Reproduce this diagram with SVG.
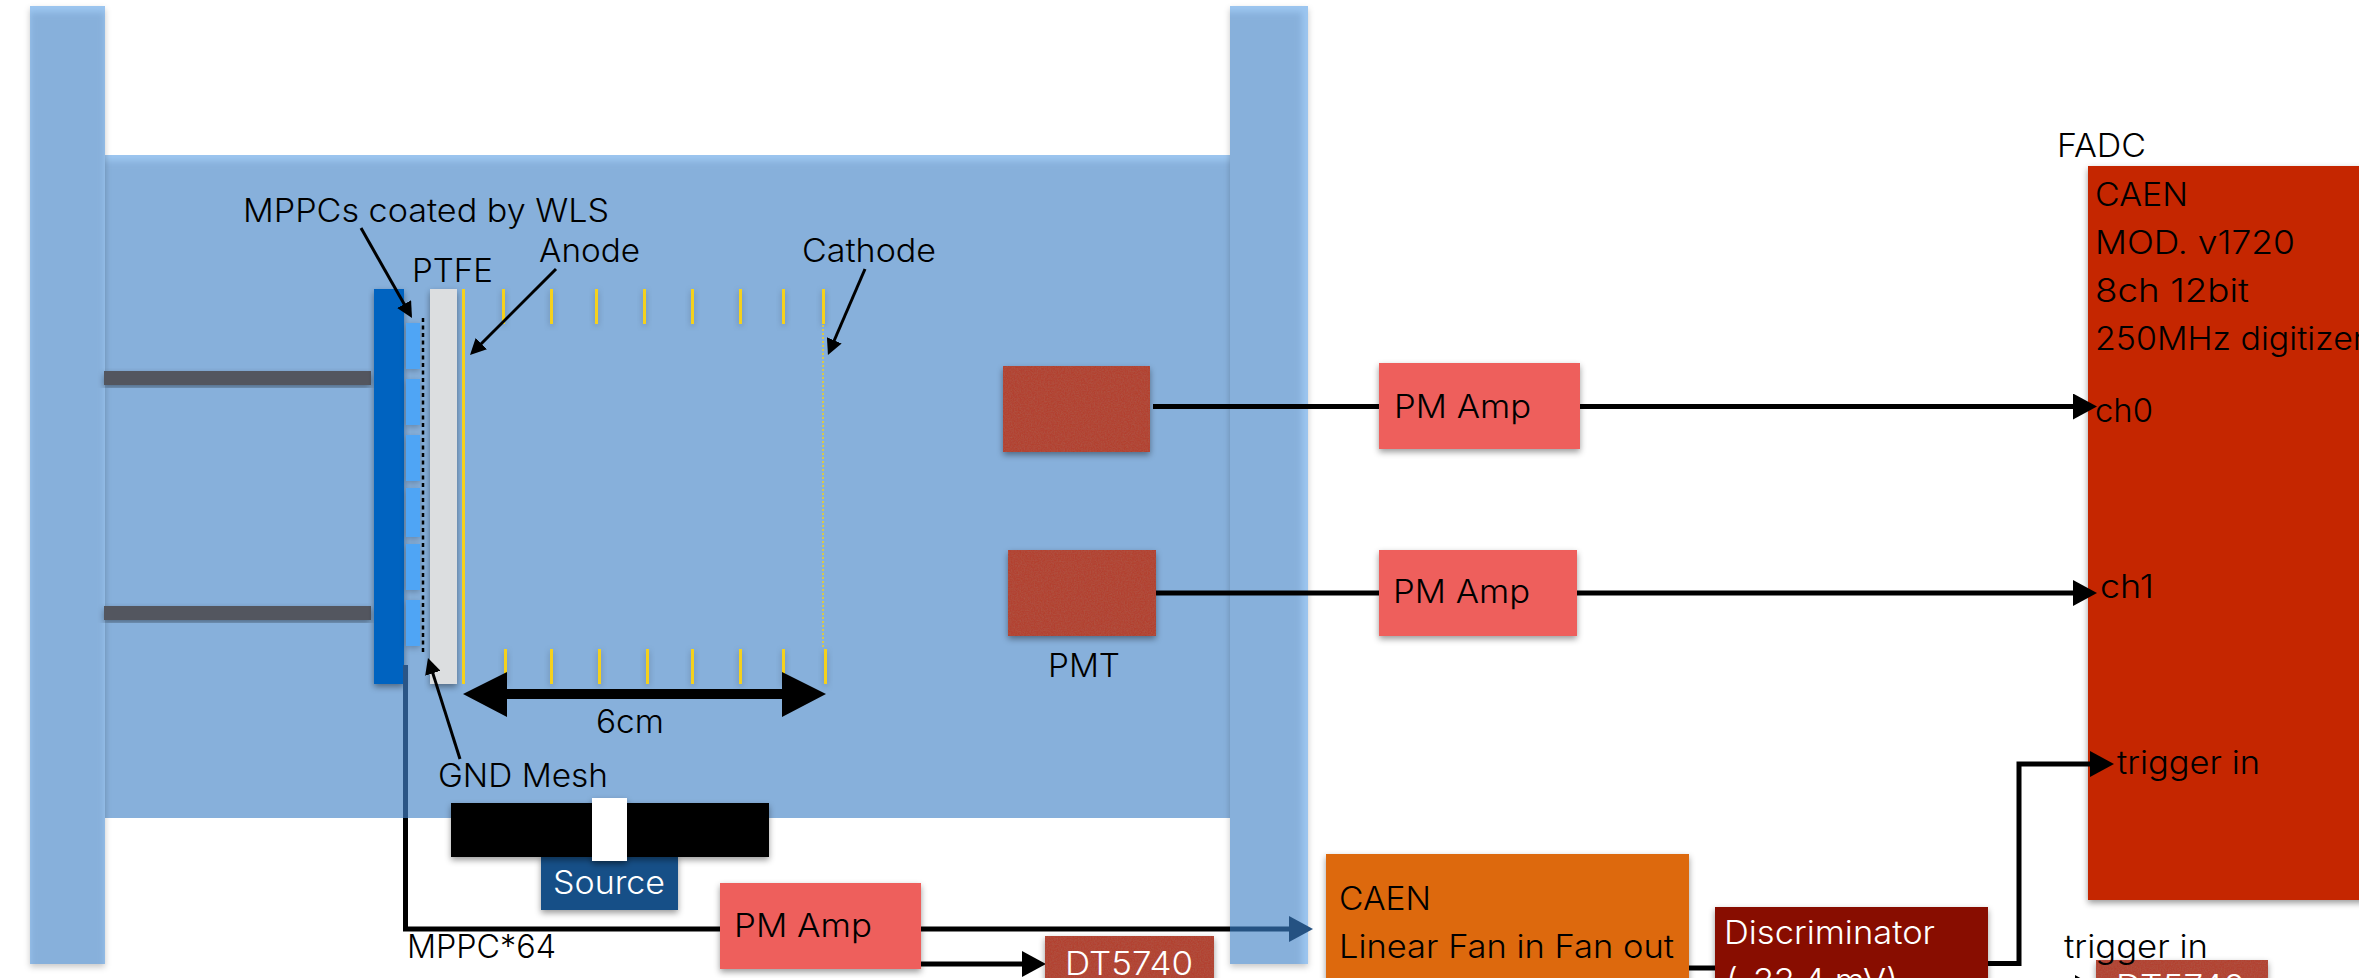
<svg xmlns="http://www.w3.org/2000/svg" width="2359" height="978" viewBox="0 0 2359 978">
<style>
text{font-family:Inter,"Noto Sans","Liberation Sans",sans-serif;font-size:32px;font-weight:300;fill:#000}
.w{fill:#fff}
.sh{filter:url(#sh)}
.col{filter:url(#shc)}
.tick{fill:#f5d11c;filter:url(#shs)}
.cable{fill:none;stroke:#000;stroke-width:5}
.thin{fill:none;stroke:#000;stroke-width:3}
.mppc{fill:#4fa5f5;filter:url(#shs)}
.amp{fill:#ee5f5b}
.pmt{fill:#b24330;filter:url(#tex)}
.rod{fill:#53575f}
</style>
<defs>
<filter id="sh" x="-20%" y="-20%" width="140%" height="140%"><feDropShadow dx="0" dy="3" stdDeviation="3" flood-color="#000" flood-opacity=".4"/></filter>
<filter id="shc" x="-20%" y="-5%" width="140%" height="110%"><feDropShadow dx="0" dy="3" stdDeviation="3" flood-color="#000" flood-opacity=".22"/></filter>
<filter id="shs" x="-200%" y="-20%" width="500%" height="140%"><feDropShadow dx="0" dy="2" stdDeviation="3" flood-color="#000" flood-opacity=".25"/></filter>
<filter id="blur" x="-20%" y="-20%" width="140%" height="140%"><feGaussianBlur stdDeviation="3"/></filter>
<filter id="tex" x="-10%" y="-10%" width="120%" height="130%">
<feTurbulence type="fractalNoise" baseFrequency="0.7" numOctaves="2" seed="4" result="n"/>
<feColorMatrix in="n" type="matrix" values="0 0 0 0 0.42  0 0 0 0 0.12  0 0 0 0 0.08  0.9 0 0 0 -0.3" result="s"/>
<feComposite in="s" in2="SourceGraphic" operator="in" result="sp"/>
<feDropShadow in="SourceGraphic" dx="0" dy="3" stdDeviation="3" flood-color="#000" flood-opacity=".4" result="b"/>
<feMerge><feMergeNode in="b"/><feMergeNode in="sp"/></feMerge>
</filter>
<clipPath id="c1"><rect x="30" y="6" width="75" height="958"/></clipPath>
<clipPath id="c2"><rect x="1230" y="6" width="78" height="958"/></clipPath>
<clipPath id="c3"><rect x="105" y="155" width="1125" height="663"/></clipPath>
<marker id="big" markerUnits="userSpaceOnUse" markerWidth="24" markerHeight="26" refX="4" refY="13" orient="auto"><path d="M0,0L24,13L0,26z" fill="#000"/></marker>
<marker id="bigblue" markerUnits="userSpaceOnUse" markerWidth="24" markerHeight="26" refX="4" refY="13" orient="auto"><path d="M0,0L24,13L0,26z" fill="#255282"/></marker>
<marker id="small" markerUnits="userSpaceOnUse" markerWidth="16" markerHeight="16" refX="4" refY="8" orient="auto"><path d="M0,0L16,8L0,16z" fill="#000"/></marker>
</defs>
<rect width="2359" height="978" fill="#fff"/>

<g id="chamber-body">
<rect x="105" y="155" width="1125" height="663" fill="#9cc6f0"/>
<g clip-path="url(#c3)"><rect x="95" y="161" width="1145" height="670" fill="#87b0db" filter="url(#blur)"/></g>
</g>
<g id="chamber-left">
<rect class="col" x="30" y="6" width="75" height="958" fill="#9cc6f0"/>
<g clip-path="url(#c1)"><rect x="30" y="12" width="75" height="960" fill="#87b0db" filter="url(#blur)"/></g>
</g>
<g id="chamber-right">
<rect class="col" x="1230" y="6" width="78" height="958" fill="#9cc6f0"/>
<g clip-path="url(#c2)"><rect x="1222" y="12" width="80" height="960" fill="#87b0db" filter="url(#blur)"/></g>
</g>

<g id="rods">
<rect class="rod sh" x="104" y="371" width="267" height="14"/>
<rect class="rod sh" x="104" y="606" width="267" height="14"/>
</g>
<g id="mppc-plate"><rect class="sh" x="374" y="289" width="30" height="395" fill="#0464c0"/></g>
<g id="mppcs">
<rect class="mppc" x="406" y="323" width="14" height="46"/>
<rect class="mppc" x="406" y="379" width="14" height="46"/>
<rect class="mppc" x="406" y="435" width="14" height="46"/>
<rect class="mppc" x="406" y="488" width="14" height="49"/>
<rect class="mppc" x="406" y="544" width="14" height="46"/>
<rect class="mppc" x="406" y="600" width="14" height="46"/>
</g>
<g id="gnd-mesh"><line x1="423" y1="318" x2="423" y2="653" stroke="#000" stroke-width="2.5" stroke-dasharray="4 3.5"/></g>
<g id="ptfe"><rect class="sh" x="430" y="289" width="27" height="395" fill="#dcdee0"/></g>
<g id="anode"><rect x="462" y="289" width="3" height="395" fill="#f5d11c"/></g>
<g id="field-top">
<rect class="tick" x="502" y="289" width="3" height="35"/>
<rect class="tick" x="550" y="289" width="3" height="35"/>
<rect class="tick" x="595" y="289" width="3" height="35"/>
<rect class="tick" x="643" y="289" width="3" height="35"/>
<rect class="tick" x="691" y="289" width="3" height="35"/>
<rect class="tick" x="739" y="289" width="3" height="35"/>
<rect class="tick" x="782" y="289" width="3" height="35"/>
<rect class="tick" x="822" y="289" width="3" height="35"/>
</g>
<g id="field-bottom">
<rect class="tick" x="504" y="649" width="3" height="35"/>
<rect class="tick" x="550" y="649" width="3" height="35"/>
<rect class="tick" x="598" y="649" width="3" height="35"/>
<rect class="tick" x="646" y="649" width="3" height="35"/>
<rect class="tick" x="691" y="649" width="3" height="35"/>
<rect class="tick" x="739" y="649" width="3" height="35"/>
<rect class="tick" x="782" y="649" width="3" height="35"/>
<rect class="tick" x="824" y="649" width="3" height="35"/>
</g>
<g id="cathode"><line x1="823" y1="325" x2="823" y2="649" stroke="#f5d11c" stroke-width="1.5" stroke-dasharray="2 2"/></g>

<g id="source">
<rect class="sh" x="541" y="855" width="137" height="55" fill="#165087"/>
<text class="w" x="553" y="894" textLength="112" lengthAdjust="spacingAndGlyphs">Source</text>
</g>
<g id="source-holder"><rect class="sh" x="451" y="803" width="318" height="54" fill="#000"/></g>
<g id="source-window"><rect class="sh" x="592" y="798" width="35" height="63" fill="#fff"/></g>

<g id="pmt-top"><rect class="pmt" x="1003" y="366" width="147" height="86"/></g>
<g id="pmt-bottom"><rect class="pmt" x="1008" y="550" width="148" height="86"/></g>

<g id="fadc">
<rect class="sh" x="2088" y="166" width="290" height="734" fill="#c52605"/>
<text x="2095" y="206" textLength="93" lengthAdjust="spacingAndGlyphs">CAEN</text>
<text x="2095" y="254" textLength="200" lengthAdjust="spacingAndGlyphs">MOD. v1720</text>
<text x="2095" y="302" textLength="154" lengthAdjust="spacingAndGlyphs">8ch 12bit</text>
<text x="2095" y="350" textLength="270" lengthAdjust="spacingAndGlyphs">250MHz digitizer</text>
<text x="2095" y="422" textLength="58" lengthAdjust="spacingAndGlyphs">ch0</text>
<text x="2100" y="598" textLength="54" lengthAdjust="spacingAndGlyphs">ch1</text>
<text x="2117" y="774" textLength="143" lengthAdjust="spacingAndGlyphs">trigger in</text>
</g>

<g id="connectors">
<line class="cable" x1="1153" y1="406.5" x2="2077" y2="406.5" marker-end="url(#big)"/>
<line class="cable" x1="1156" y1="593" x2="2077" y2="593" marker-end="url(#big)"/>
<path class="cable" d="M1988,963.5H2019V764H2094" marker-end="url(#big)"/>
<line x1="405.5" y1="665" x2="405.5" y2="818" stroke="#2a5586" stroke-width="5"/>
<path class="cable" d="M405.5,818V929H720"/>
<line class="cable" x1="921" y1="929" x2="1230" y2="929"/>
<line x1="1230" y1="929" x2="1293" y2="929" stroke="#255282" stroke-width="5" marker-end="url(#bigblue)"/>
<line class="cable" x1="921" y1="964" x2="1026" y2="964" marker-end="url(#big)"/>
<line class="cable" x1="1689" y1="968" x2="1715" y2="968"/>
<path d="M2075,975L2096,987L2075,999z" fill="#000"/>
<line class="thin" x1="361" y1="228" x2="406.1" y2="307.6" marker-end="url(#small)"/>
<line class="thin" x1="556" y1="269" x2="478.5" y2="346.5" marker-end="url(#small)"/>
<line class="thin" x1="865" y1="269" x2="832.7" y2="344" marker-end="url(#small)"/>
<line class="thin" x1="460" y1="759" x2="431.6" y2="669.4" marker-end="url(#small)"/>
<path d="M463,694L507,672V689H782V672L826,694L782,717V699H507V717z" fill="#000"/>
</g>

<g id="amp-top">
<rect class="amp sh" x="1379" y="363" width="201" height="86"/>
<text x="1394" y="418" textLength="137" lengthAdjust="spacingAndGlyphs">PM Amp</text>
</g>
<g id="amp-middle">
<rect class="amp sh" x="1379" y="550" width="198" height="86"/>
<text x="1393" y="603" textLength="137" lengthAdjust="spacingAndGlyphs">PM Amp</text>
</g>
<g id="amp-bottom">
<rect class="amp sh" x="720" y="883" width="201" height="86"/>
<text x="734" y="937" textLength="138" lengthAdjust="spacingAndGlyphs">PM Amp</text>
</g>
<g id="dt5740-left">
<rect class="pmt" x="1045" y="936" width="169" height="60"/>
<text class="w" x="1065" y="975" textLength="128" lengthAdjust="spacingAndGlyphs">DT5740</text>
</g>
<g id="fan">
<rect class="sh" x="1326" y="854" width="363" height="140" fill="#dd690f"/>
<text x="1339" y="910" textLength="92" lengthAdjust="spacingAndGlyphs">CAEN</text>
<text x="1339" y="958" textLength="335" lengthAdjust="spacingAndGlyphs">Linear Fan in Fan out</text>
</g>
<g id="discriminator">
<rect class="sh" x="1715" y="907" width="273" height="90" fill="#881102"/>
<text class="w" x="1724" y="944" textLength="211" lengthAdjust="spacingAndGlyphs">Discriminator</text>
<text class="w" x="1726" y="992" textLength="172" lengthAdjust="spacingAndGlyphs">(-33.4 mV)</text>
</g>
<g id="dt5740-right">
<rect class="pmt" x="2096" y="960" width="172" height="40"/>
<text class="w" x="2116" y="998" textLength="129" lengthAdjust="spacingAndGlyphs">DT5740</text>
</g>

<g id="labels">
<text x="243" y="222" textLength="366" lengthAdjust="spacingAndGlyphs">MPPCs coated by WLS</text>
<text x="539" y="262" textLength="101" lengthAdjust="spacingAndGlyphs">Anode</text>
<text x="412" y="282" textLength="81" lengthAdjust="spacingAndGlyphs">PTFE</text>
<text x="802" y="262" textLength="134" lengthAdjust="spacingAndGlyphs">Cathode</text>
<text x="596" y="733" textLength="68" lengthAdjust="spacingAndGlyphs">6cm</text>
<text x="438" y="787" textLength="170" lengthAdjust="spacingAndGlyphs">GND Mesh</text>
<text x="407" y="958" textLength="149" lengthAdjust="spacingAndGlyphs">MPPC*64</text>
<text x="1048" y="677" textLength="72" lengthAdjust="spacingAndGlyphs">PMT</text>
<text x="2057" y="157" textLength="89" lengthAdjust="spacingAndGlyphs">FADC</text>
<text x="2064" y="958" textLength="144" lengthAdjust="spacingAndGlyphs">trigger in</text>
</g>
</svg>
